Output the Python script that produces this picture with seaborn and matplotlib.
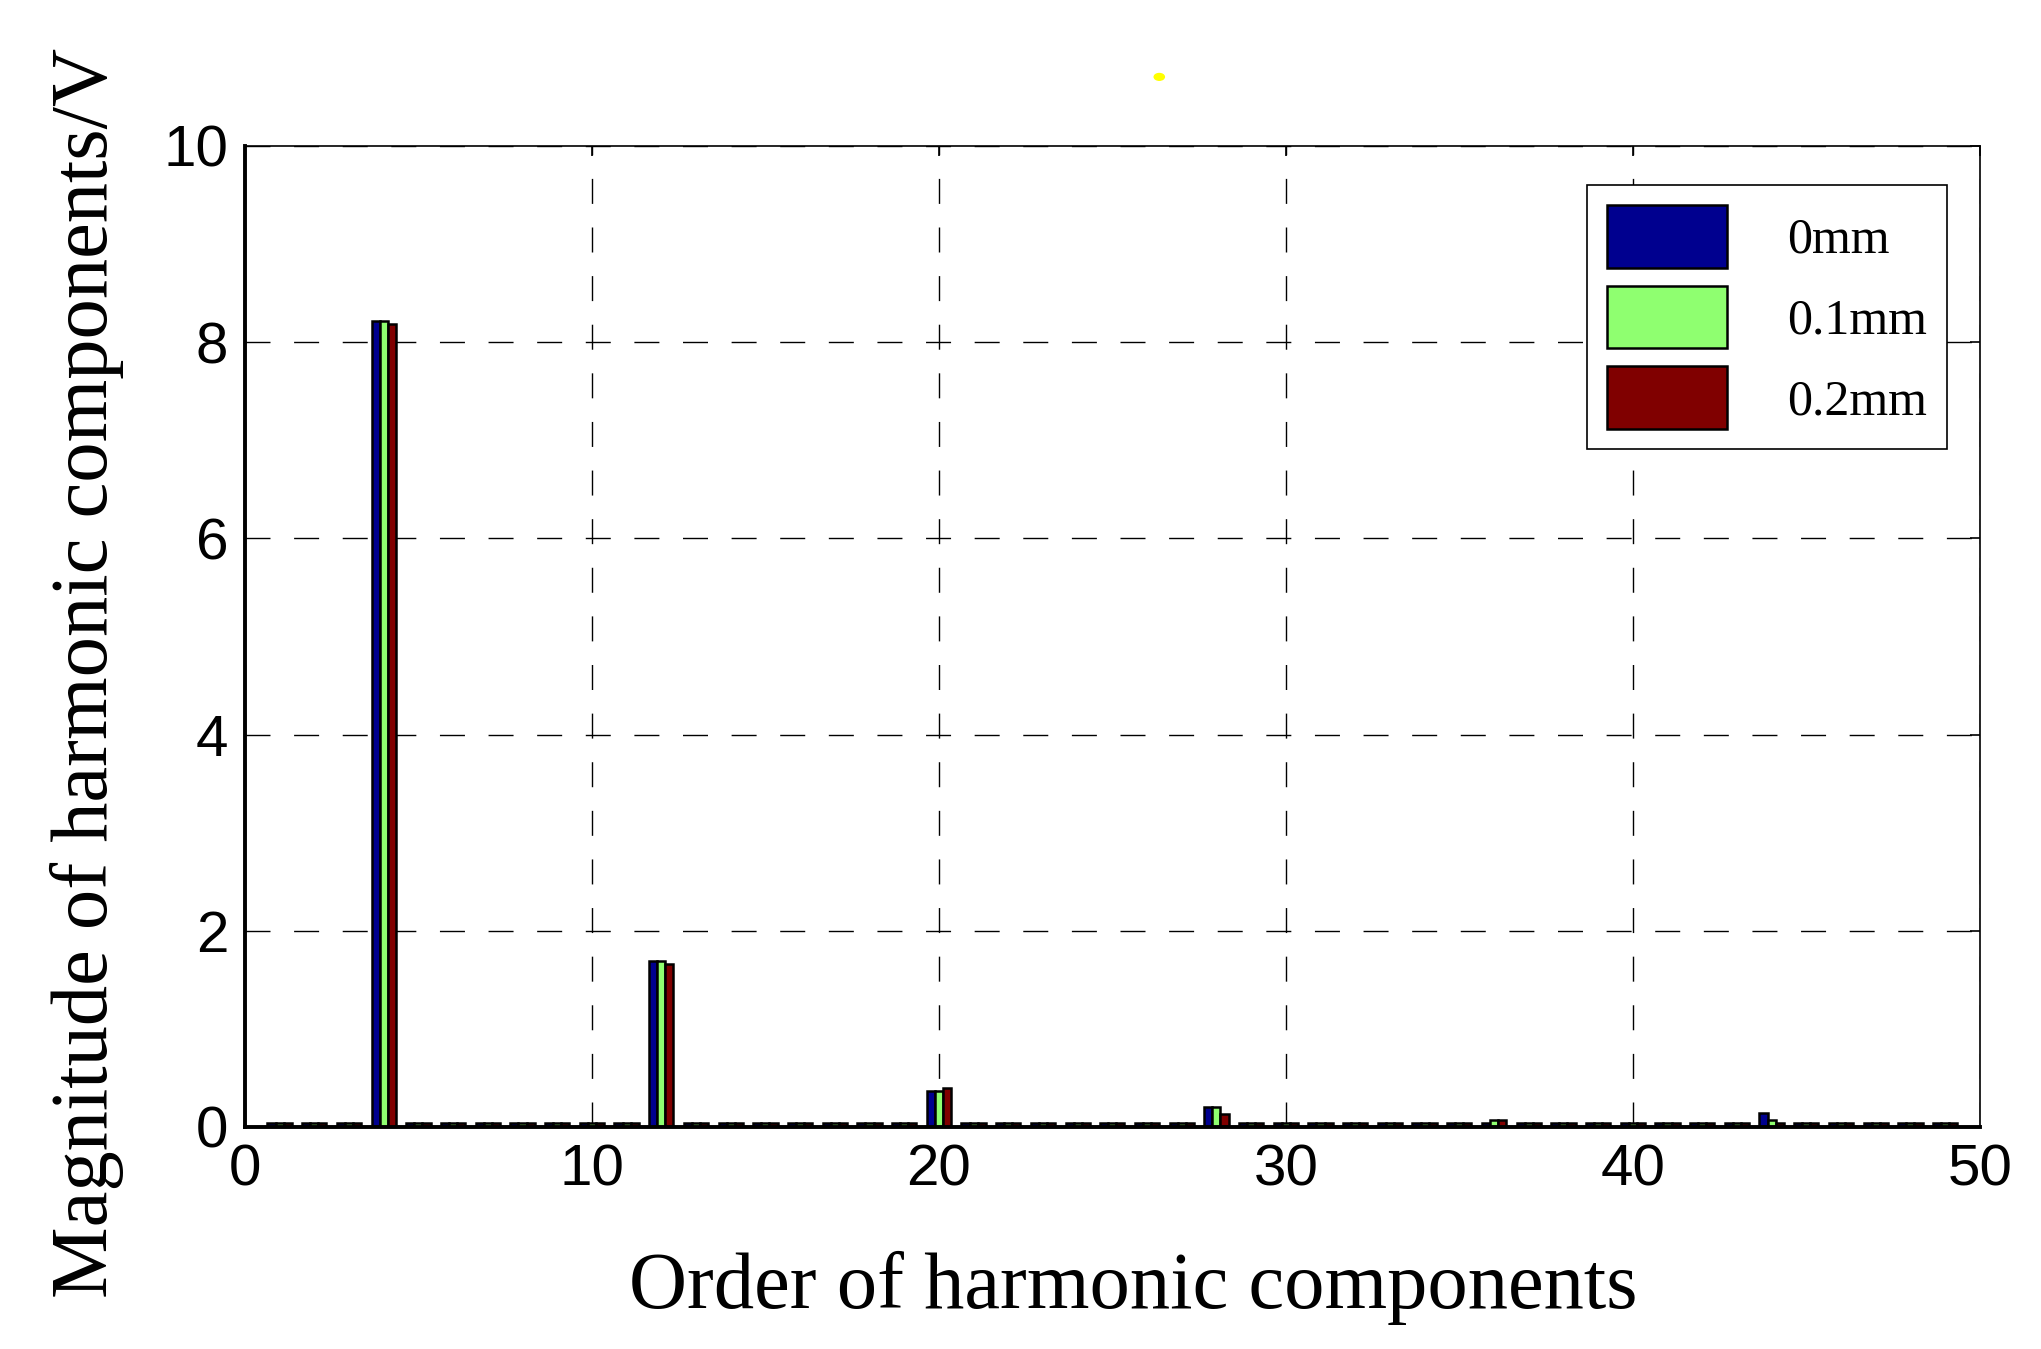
import numpy as np
import pandas as pd
import matplotlib
matplotlib.use("Agg")
import matplotlib.pyplot as plt
import seaborn as sns
from matplotlib.patches import Circle

# Harmonic orders and magnitudes (V) for three eccentricities
orders = list(range(1, 50))
mag_0mm = [0.04, 0.04, 0.04, 8.22, 0.04, 0.04, 0.04, 0.04, 0.04, 0.04,
           0.04, 1.69, 0.04, 0.04, 0.04, 0.04, 0.04, 0.04, 0.04, 0.37,
           0.04, 0.04, 0.04, 0.04, 0.04, 0.04, 0.04, 0.20, 0.04, 0.04,
           0.04, 0.04, 0.04, 0.04, 0.04, 0.04, 0.04, 0.04, 0.04, 0.04,
           0.04, 0.04, 0.04, 0.14, 0.04, 0.04, 0.04, 0.04, 0.04]
mag_01mm = [0.04, 0.04, 0.04, 8.22, 0.04, 0.04, 0.04, 0.04, 0.04, 0.04,
            0.04, 1.69, 0.04, 0.04, 0.04, 0.04, 0.04, 0.04, 0.04, 0.37,
            0.04, 0.04, 0.04, 0.04, 0.04, 0.04, 0.04, 0.20, 0.04, 0.04,
            0.04, 0.04, 0.04, 0.04, 0.04, 0.07, 0.04, 0.04, 0.04, 0.04,
            0.04, 0.04, 0.04, 0.07, 0.04, 0.04, 0.04, 0.04, 0.04]
mag_02mm = [0.04, 0.04, 0.04, 8.19, 0.04, 0.04, 0.04, 0.04, 0.04, 0.04,
            0.04, 1.66, 0.04, 0.04, 0.04, 0.04, 0.04, 0.04, 0.04, 0.40,
            0.04, 0.04, 0.04, 0.04, 0.04, 0.04, 0.04, 0.13, 0.04, 0.04,
            0.04, 0.04, 0.04, 0.04, 0.04, 0.07, 0.04, 0.04, 0.04, 0.04,
            0.04, 0.04, 0.04, 0.04, 0.04, 0.04, 0.04, 0.04, 0.04]
labels = ["0mm", "0.1mm", "0.2mm"]
colors = ["#00008F", "#8FFF70", "#800000"]

df = pd.concat([
    pd.DataFrame({"order": orders, "mag": mag_0mm, "case": labels[0]}),
    pd.DataFrame({"order": orders, "mag": mag_01mm, "case": labels[1]}),
    pd.DataFrame({"order": orders, "mag": mag_02mm, "case": labels[2]}),
])

sns.set_style("white")
plt.rcParams["font.family"] = ["Liberation Sans", "DejaVu Sans"]
plt.rcParams["text.color"] = "black"
plt.rcParams["axes.labelcolor"] = "black"

fig = plt.figure(figsize=(20.41, 13.49), dpi=100)
ax = fig.add_axes([0.120, 0.1646, 0.850, 0.7272])

sns.barplot(data=df, x="order", y="mag", hue="case", hue_order=labels,
            palette=colors, native_scale=True, width=0.7, dodge=True,
            edgecolor="black", linewidth=1.8, saturation=1, errorbar=None, ax=ax)

ax.set_xlim(0, 50)
ax.set_ylim(0, 10)
ax.set_xticks([0, 10, 20, 30, 40, 50])
ax.set_yticks([0, 2, 4, 6, 8, 10])
ax.tick_params(axis="both", labelsize=42, direction="in", length=7, width=1.2,
               top=True, right=True, pad=12, colors="black")
ax.grid(True, color="black", linestyle=(0, (18, 17)), linewidth=1.0)
ax.set_axisbelow(True)

for side in ["top", "right"]:
    ax.spines[side].set_linewidth(1.2)
    ax.spines[side].set_color("black")
for side in ["left", "bottom"]:
    ax.spines[side].set_linewidth(2.8)
    ax.spines[side].set_color("black")

ax.set_xlabel("Order of harmonic components", fontsize=58,
              family=["Liberation Serif"], labelpad=38)
ax.set_ylabel("Magnitude of harmonic components/V", fontsize=58,
              family=["Liberation Serif"], labelpad=28)
ax.xaxis.label.set_x(0.512)
ax.yaxis.label.set_y(0.463)

leg = ax.legend(loc="upper right", bbox_to_anchor=(0.981, 0.96),
                prop={"family": "Liberation Serif", "size": 36},
                handlelength=2.4, handleheight=1.55, handletextpad=1.2,
                labelspacing=0.36, borderpad=0.4, fancybox=False,
                framealpha=1, edgecolor="black", borderaxespad=0)
leg.get_frame().set_linewidth(1.2)

# stray yellow dot present in the original figure
fig.add_artist(Circle((0.568, 0.943), 0.0025, transform=fig.transFigure,
                      color="yellow"))

fig.savefig("out.png", dpi=100)
